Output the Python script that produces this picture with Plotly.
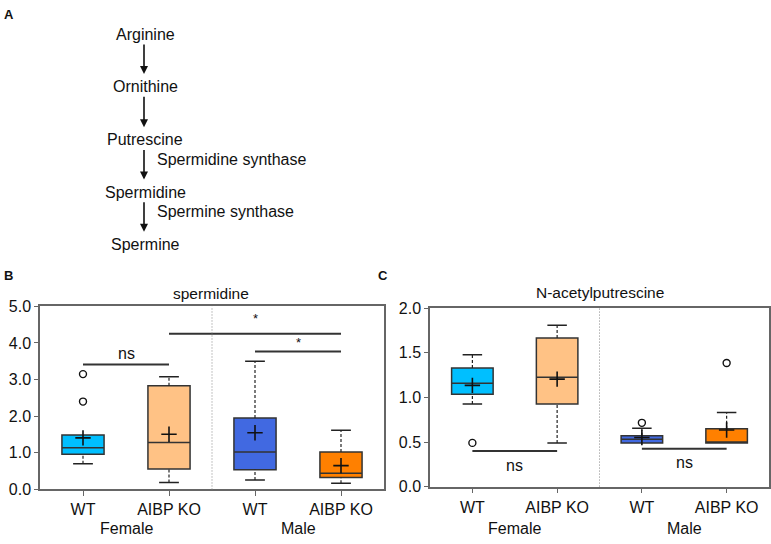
import plotly.graph_objects as go

# ---- panel A: pathway ----
pathway = ["Arginine", "Ornithine", "Putrescine", "Spermidine", "Spermine"]
enzymes = ["", "", "Spermidine synthase", "Spermine synthase"]

# ---- box plot data (precomputed stats) ----
groups = ["WT", "AIBP KO", "WT", "AIBP KO"]
sexes = ["Female", "Male"]
box_colors = ["#00BFFF", "#FFC285", "#4169E1", "#FF8000"]

# spermidine
spd_low = [0.70, 0.19, 0.26, 0.17]
spd_q1 = [0.96, 0.56, 0.54, 0.33]
spd_med = [1.14, 1.28, 1.02, 0.44]
spd_q3 = [1.49, 2.83, 1.95, 1.02]
spd_high = [1.49, 3.08, 3.50, 1.62]
spd_mean = [1.41, 1.51, 1.55, 0.65]
spd_out_x = [0, 0]
spd_out_y = [3.15, 2.40]

# N-acetylputrescine
nap_low = [0.925, 0.49, 0.49, 0.49]
nap_q1 = [1.035, 0.925, 0.49, 0.49]
nap_med = [1.16, 1.227, 0.53, 0.50]
nap_q3 = [1.33, 1.666, 0.57, 0.65]
nap_high = [1.48, 1.81, 0.653, 0.83]
nap_mean = [1.135, 1.205, 0.55, 0.635]
nap_out_x = [0, 2, 3]
nap_out_y = [0.49, 0.715, 1.387]

# significance brackets: (x0, x1, y line, y text, label)
spd_sig = [(0, 1, 3.41, 3.72, "ns"), (1, 3, 4.25, 4.67, "*"), (2, 3, 3.77, 4.02, "*")]
nap_sig = [(0, 1, 0.40, 0.24, "ns"), (2, 3, 0.425, 0.27, "ns")]

FONT = "Arial, Liberation Sans, sans-serif"
BOX_W = 0.49
CAP = 0.115
W, H = 771.0, 544.0

fig = go.Figure()


def note(px, py, text, size=16, xanchor="center", **kw):
    # text placed by pixel position on the page
    fig.add_annotation(x=px / W, y=1 - py / H, xref="paper", yref="paper", text=text,
                       showarrow=False, xanchor=xanchor, yanchor="middle",
                       font=dict(size=size), **kw)


def add_panel(xa, ya, low, q1, med, q3, high, mean, out_x, out_y, sig, sex_shift):
    for i in range(len(groups)):
        fig.add_trace(go.Box(
            x=[i], q1=[q1[i]], median=[med[i]], q3=[q3[i]],
            lowerfence=[q1[i]], upperfence=[q3[i]],
            width=BOX_W, whiskerwidth=0, boxpoints=False,
            fillcolor=box_colors[i], line=dict(color="#333333", width=1.5),
            xaxis=xa, yaxis=ya, showlegend=False, hoverinfo="skip"
        ))
        wx, wy, cx, cy = [], [], [], []
        if low[i] < q1[i]:
            wx += [i, i, None]; wy += [low[i], q1[i], None]
            cx += [i - CAP, i + CAP, None]; cy += [low[i], low[i], None]
        if high[i] > q3[i]:
            wx += [i, i, None]; wy += [q3[i], high[i], None]
            cx += [i - CAP, i + CAP, None]; cy += [high[i], high[i], None]
        if wx:
            fig.add_trace(go.Scatter(
                x=wx, y=wy, mode="lines", xaxis=xa, yaxis=ya,
                line=dict(color="#222222", width=1.2, dash="3px,2px"),
                showlegend=False, hoverinfo="skip"
            ))
            fig.add_trace(go.Scatter(
                x=cx, y=cy, mode="lines", xaxis=xa, yaxis=ya,
                line=dict(color="#222222", width=1.5),
                showlegend=False, hoverinfo="skip"
            ))
    # means
    fig.add_trace(go.Scatter(
        x=list(range(len(groups))), y=mean, mode="markers", xaxis=xa, yaxis=ya,
        marker=dict(symbol="cross-thin-open", size=11, color="#111111",
                    line=dict(color="#111111", width=1.6)),
        showlegend=False
    ))
    # outliers
    fig.add_trace(go.Scatter(
        x=out_x, y=out_y, mode="markers", xaxis=xa, yaxis=ya,
        marker=dict(symbol="circle-open", size=7, color="#111111", line=dict(width=1.4)),
        showlegend=False
    ))
    # significance
    for x0, x1, yl, yt, lab in sig:
        fig.add_trace(go.Scatter(
            x=[x0, x1], y=[yl, yl], mode="lines", xaxis=xa, yaxis=ya,
            line=dict(color="#333333", width=2), showlegend=False, hoverinfo="skip"
        ))
        fig.add_annotation(x=(x0 + x1) / 2, y=yt, xref=xa, yref=ya, text=lab,
                           showarrow=False, xanchor="center", yanchor="middle",
                           font=dict(size=16 if lab == "ns" else 13))
    # divider between sexes
    fig.add_shape(type="line", x0=1.5, x1=1.5, y0=0, y1=1, xref=xa, yref=ya + " domain",
                  line=dict(color="#888888", width=1, dash="1px,2px"))
    # sex labels
    for k, s in enumerate(sexes):
        fig.add_annotation(x=2 * k + 0.5, y=0, xref=xa, yref=ya + " domain", text=s,
                           showarrow=False, xanchor="center", yanchor="middle",
                           yshift=sex_shift, font=dict(size=16))


add_panel("x", "y", spd_low, spd_q1, spd_med, spd_q3, spd_high, spd_mean,
          spd_out_x, spd_out_y, spd_sig, -39)
add_panel("x2", "y2", nap_low, nap_q1, nap_med, nap_q3, nap_high, nap_mean,
          nap_out_x, nap_out_y, nap_sig, -42)

# ---- panel A ----
label_y = [27, 81, 136, 190, 244]
for k, name in enumerate(pathway):
    note(145, label_y[k], name)
for k in range(len(pathway) - 1):
    head = label_y[k + 1] - 13
    tail = label_y[k] + 10
    fig.add_annotation(x=144 / W, y=1 - head / H, xref="paper", yref="paper",
                       ax=0, ay=-(head - tail), text="", showarrow=True,
                       arrowhead=2, arrowsize=1, arrowwidth=1.6, arrowcolor="#111111")
    if enzymes[k]:
        note(155, label_y[k] + 20, enzymes[k], xanchor="left")

# panel letters and titles
for letter, px, py in [("A", 2, 7), ("B", 2, 276), ("C", 376, 276)]:
    note(px, py, "<b>%s</b>" % letter, size=13, xanchor="left")
note(211, 295, "spermidine", size=15.5)
note(600, 294, "N-acetylputrescine", size=15.5)

xcommon = dict(range=[-0.5, 3.5], tickvals=list(range(4)), ticktext=groups,
               showline=True, mirror=True, linecolor="#666666", linewidth=1.5,
               ticks="outside", ticklen=5, tickcolor="#666666", showgrid=False,
               zeroline=False, tickfont=dict(size=16))
ycommon = dict(showline=True, mirror=True, linecolor="#666666", linewidth=1.5,
               ticks="outside", ticklen=4, tickcolor="#666666", showgrid=False,
               zeroline=False, tickformat=".1f", tickfont=dict(size=16))

fig.update_layout(
    width=771, height=544,
    margin=dict(l=0, r=0, t=0, b=0),
    paper_bgcolor="white", plot_bgcolor="white",
    font=dict(family=FONT, color="#111111"),
    showlegend=False,
    xaxis=dict(domain=[40 / W, 384 / W], anchor="y", **xcommon),
    yaxis=dict(domain=[1 - 497 / H, 1 - 308 / H], anchor="x", range=[0, 5], dtick=1, **ycommon),
    xaxis2=dict(domain=[430 / W, 769 / W], anchor="y2", **xcommon),
    yaxis2=dict(domain=[1 - 494 / H, 1 - 310 / H], anchor="x2", range=[0, 2], dtick=0.5, **ycommon),
)

# drop the default page margin so the figure sits at the window's corner
fig.write_html("out.html", config={"displayModeBar": False},
               post_script="document.body.style.margin='0';")
